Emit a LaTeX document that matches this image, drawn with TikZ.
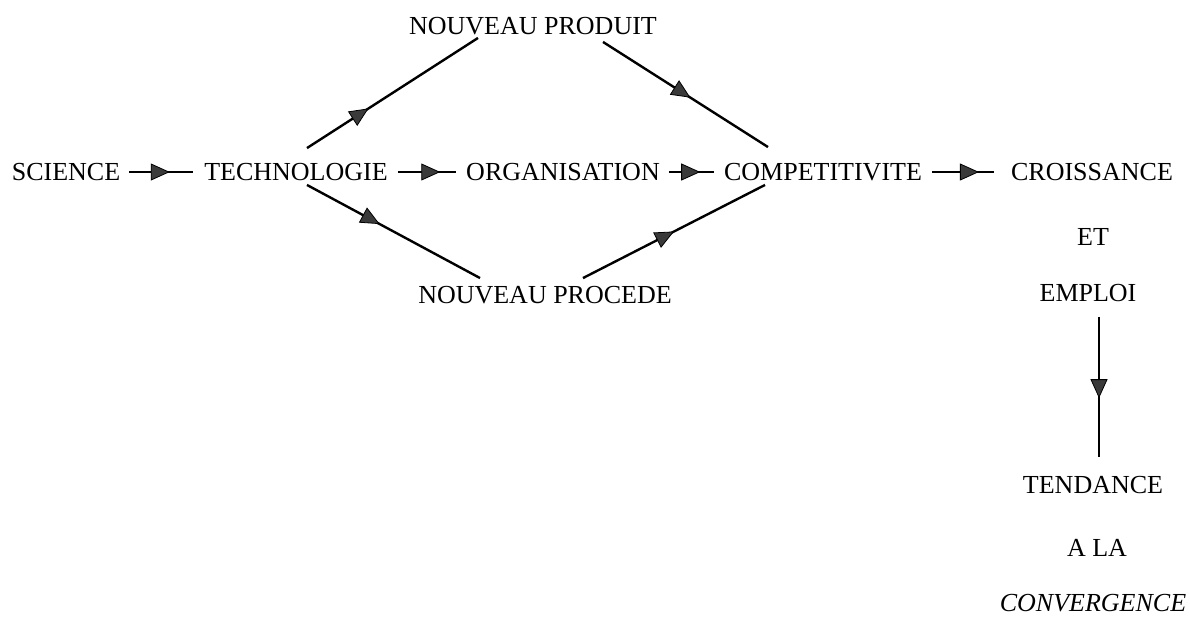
\documentclass[tikz,border=0pt]{standalone}
\usepackage{fontspec}
\setmainfont{Liberation Serif}
\usetikzlibrary{arrows.meta,decorations.markings}
\definecolor{tipgray}{HTML}{3A3A3A}
\begin{document}
\begin{tikzpicture}[x=1pt,y=-1pt,
  lbl/.style={inner sep=0pt, text height=17.5pt, text depth=0pt,
    font=\fontsize{26}{30}\selectfont},
  flow/.style={draw, line width=2.4pt, postaction={decorate},
    decoration={markings, mark=at position #1 with
      {\arrow{Triangle[length=19pt,width=17pt,fill=tipgray,line width=0.8pt]}}}},
  flow/.default=0.55]
\useasboundingbox (0,0) rectangle (1190,621);

% main chain
\node[lbl] (sci)   at (66,172)  {SCIENCE};
\node[lbl] (tech)  at (296,172) {TECHNOLOGIE};
\node[lbl] (org)   at (563,172) {ORGANISATION};
\node[lbl] (comp)  at (823,172) {COMPETITIVITE};
\node[lbl] (cro)   at (1092,172) {CROISSANCE};
\node[lbl] (et)    at (1093,237) {ET};
\node[lbl] (emp)   at (1088,293) {EMPLOI};
\node[lbl] (tend)  at (1093,485) {TENDANCE};
\node[lbl] (ala)   at (1097,548) {A LA};
\node[lbl, font=\fontsize{26}{30}\selectfont\itshape] (conv) at (1093,603) {CONVERGENCE};

% the two branches
\node[lbl] (prod)  at (533,26)  {NOUVEAU PRODUIT};
\node[lbl] (proc)  at (545,295) {NOUVEAU PROCEDE};

% horizontal arrows
\path[flow=0.59, shorten <=9pt, shorten >=11pt] (sci) -- (tech);
\path[flow=0.67, shorten <=10pt, shorten >=10pt] (tech) -- (org);
\path[flow=0.63, shorten <=9pt, shorten >=10pt] (org) -- (comp);
\path[flow=0.64, shorten <=10pt, shorten >=17pt] (comp) -- (cro);

% upper branch
\path[flow=0.36] ([xshift=11pt,yshift=15pt]tech.north) -- ([xshift=-55pt,yshift=-3pt]prod.south);
\path[flow=0.53] ([xshift=70pt,yshift=-7pt]prod.south) -- ([xshift=-55pt,yshift=16pt]comp.north);

% lower branch
\path[flow=0.42] ([xshift=11pt,yshift=-4pt]tech.south) -- ([xshift=-65pt,yshift=8pt]proc.north);
\path[flow=0.5] ([xshift=38pt,yshift=8pt]proc.north) -- ([xshift=-58pt,yshift=-4pt]comp.south);

% downward arrow
\coordinate (vtop) at ([xshift=11pt,yshift=-15pt]emp.south);
\coordinate (vend) at ([yshift=19pt]tend.north);
\path[flow=0.58] (vtop) -- (vtop |- vend);
\end{tikzpicture}
\end{document}
